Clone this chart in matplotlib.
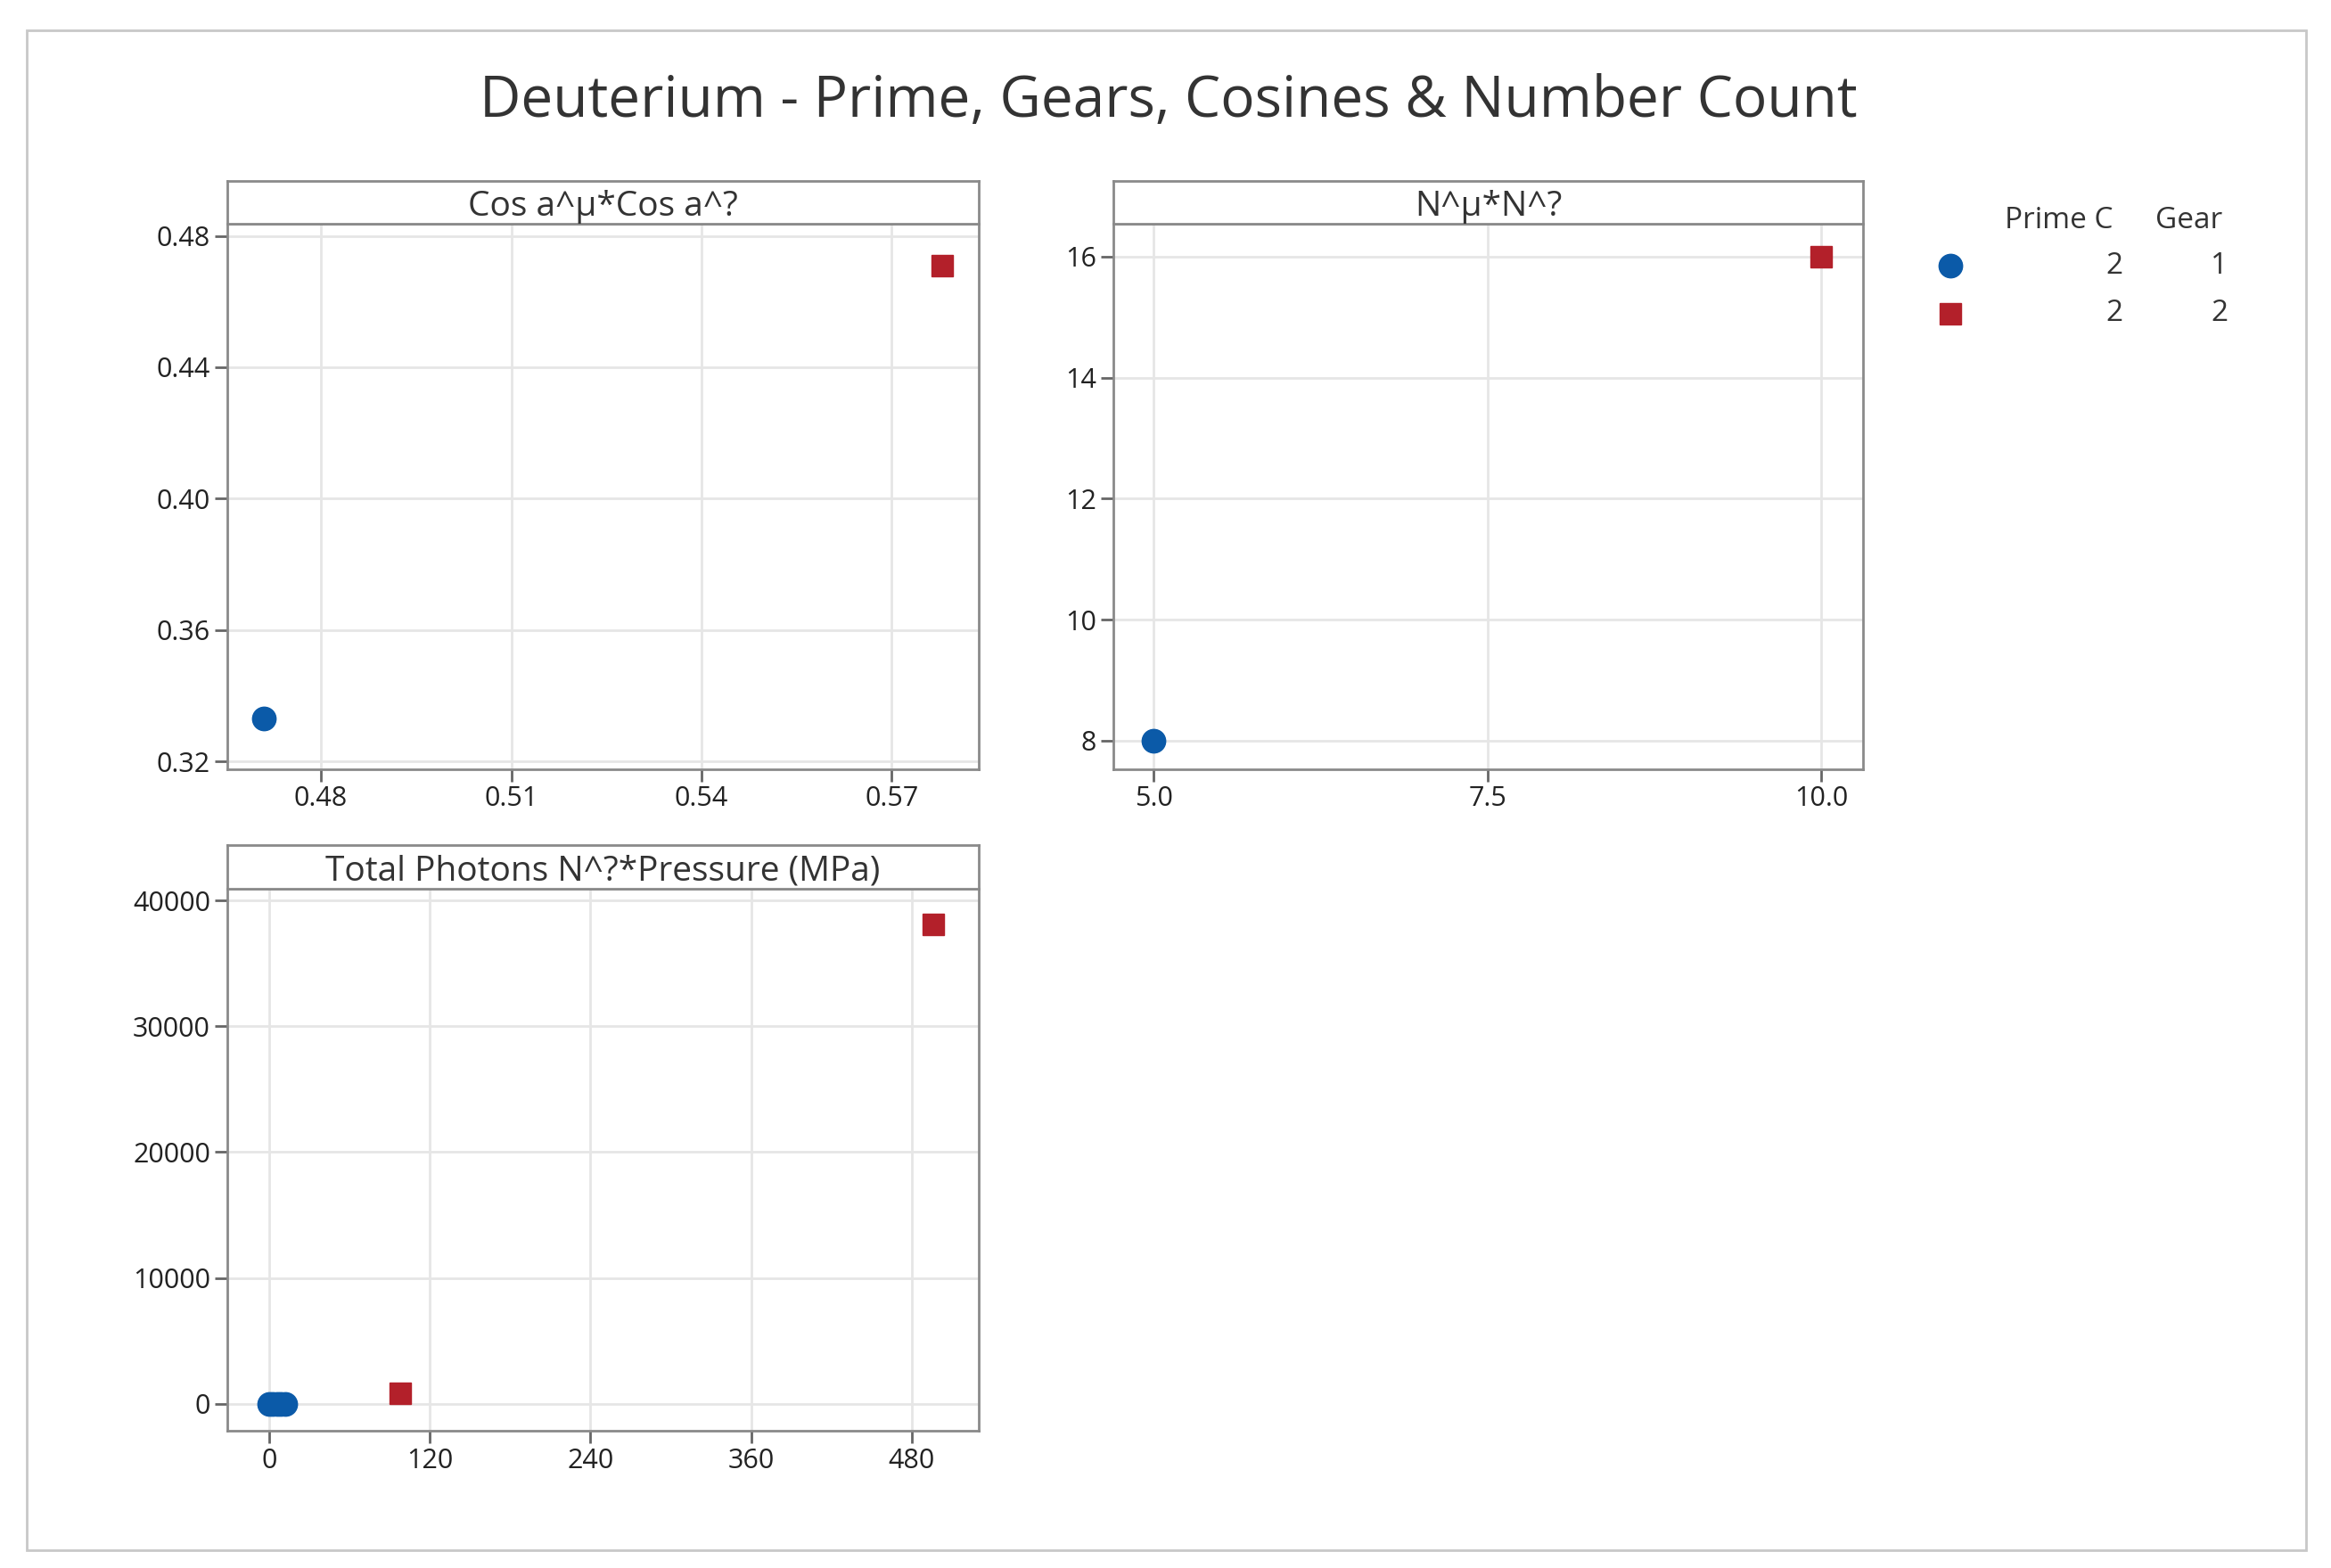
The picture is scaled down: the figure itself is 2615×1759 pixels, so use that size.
import matplotlib
matplotlib.use("Agg")
import matplotlib.pyplot as plt
from matplotlib.lines import Line2D
from matplotlib.patches import Rectangle

plt.rcParams['font.family'] = ['Open Sans', 'DejaVu Sans']

BLUE = '#0B5AA8'
RED = '#B3202A'

cos_x_g1 = [0.471]; cos_y_g1 = [0.333]
cos_x_g2 = [0.578]; cos_y_g2 = [0.471]
n_x_g1 = [5.0]; n_y_g1 = [8.0]
n_x_g2 = [10.0]; n_y_g2 = [16.0]
tp_x_g1 = [0, 3, 6, 9, 12]; tp_y_g1 = [0, 0, 0, 0, 0]
tp_x_g2 = [98, 496]; tp_y_g2 = [830, 38100]

W, H = 1560, 1050
fig = plt.figure(figsize=(26.15, 17.59), dpi=100)
fig.patches.append(Rectangle((18/W, 1-1038/H), (1543-18)/W, (1038-20)/H,
                             transform=fig.transFigure, fill=False, ec='#c8c8c8', lw=2))
fig.text(782/W, 1-68/H, 'Deuterium - Prime, Gears, Cosines & Number Count',
         ha='center', va='center', fontsize=46, color='#333333')

def panel(l, r, t, b, title, xs1, ys1, xs2, ys2, xlim, ylim, xt, yt, xfmt, yfmt):
    ax = fig.add_axes([l/W, 1-b/H, (r-l)/W, (b-t)/H])
    ax.set_xlim(xlim); ax.set_ylim(ylim)
    ax.set_xticks(xt); ax.set_yticks(yt)
    ax.set_xticklabels([xfmt(v) for v in xt]); ax.set_yticklabels([yfmt(v) for v in yt])
    ax.grid(True, color='#e6e6e6', lw=2)
    ax.set_axisbelow(True)
    for s in ax.spines.values():
        s.set_color('#8a8a8a'); s.set_linewidth(2)
    ax.tick_params(labelsize=22, length=10, width=2, color='#666666', labelcolor='#222222')
    ax.plot(xs1, ys1, 'o', color=BLUE, ms=19, ls='none')
    ax.plot(xs2, ys2, 's', color=RED, ms=17, ls='none')
    sh = 29
    sax = fig.add_axes([l/W, 1-t/H, (r-l)/W, sh/H])
    sax.set_xticks([]); sax.set_yticks([])
    for s in sax.spines.values():
        s.set_color('#8a8a8a'); s.set_linewidth(2)
    sax.text(0.5, 0.4, title, ha='center', va='center', fontsize=28, color='#333333',
             transform=sax.transAxes)
    return ax

panel(152, 655, 150, 515, 'Cos a^\u00b5*Cos a^?', cos_x_g1, cos_y_g1, cos_x_g2, cos_y_g2,
      (0.4652, 0.5837), (0.3177, 0.4836), [0.48, 0.51, 0.54, 0.57], [0.32, 0.36, 0.40, 0.44, 0.48],
      lambda v: f'{v:.2f}', lambda v: f'{v:.2f}')
panel(745, 1247, 150, 515, 'N^\u00b5*N^?', n_x_g1, n_y_g1, n_x_g2, n_y_g2,
      (4.698, 10.313), (7.53, 16.54), [5.0, 7.5, 10.0], [8, 10, 12, 14, 16],
      lambda v: f'{v:.1f}', lambda v: f'{v:g}')
panel(152, 655, 595, 958, 'Total Photons N^?*Pressure (MPa)', tp_x_g1, tp_y_g1, tp_x_g2, tp_y_g2,
      (-31.3, 530), (-2136, 40950), [0, 120, 240, 360, 480], [0, 10000, 20000, 30000, 40000],
      lambda v: f'{v:g}', lambda v: f'{v:g}')

# legend
fig.text(1378/W, 1-148/H, 'Prime C', ha='center', va='center', fontsize=24, color='#333333')
fig.text(1465/W, 1-148/H, 'Gear', ha='center', va='center', fontsize=24, color='#333333')
leg_prime = ['2', '2']
leg_gear = ['1', '2']
for i, (mk, c, ms) in enumerate([('o', BLUE, 19), ('s', RED, 17)]):
    y = 1 - (178 + 32*i)/H
    fig.add_artist(Line2D([1305/W], [y], marker=mk, color=c, ms=ms, ls='none',
                          transform=fig.transFigure))
    fig.text(1421/W, y, leg_prime[i], ha='right', va='center', fontsize=24, color='#333333')
    fig.text(1491/W, y, leg_gear[i], ha='right', va='center', fontsize=24, color='#333333')

fig.savefig('out.png', dpi=100)
